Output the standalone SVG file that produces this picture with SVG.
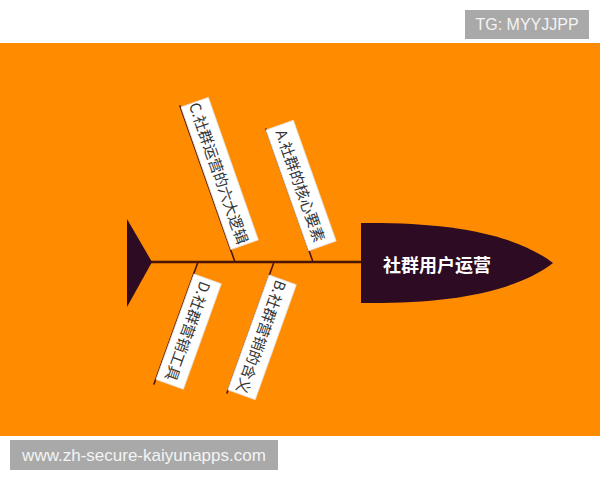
<svg xmlns="http://www.w3.org/2000/svg" width="600" height="480" viewBox="0 0 600 480">
<style>
.bone{stroke:#4a1406;stroke-width:1.6;fill:none;stroke-linecap:round}
.spine{stroke:#4a1406;stroke-width:2.6;fill:none}
.card{fill:#ffffff;stroke:#e6e0da;stroke-width:0.8}
.lbl{font-family:"Noto Sans CJK SC","Liberation Sans",sans-serif;font-size:15px;fill:#333333;text-anchor:middle;dominant-baseline:central}
.wm{font-family:"Liberation Sans",Arial,sans-serif;fill:#f4f4f4}
</style>
<rect x="0" y="0" width="600" height="480" fill="#ffffff"/>
<rect x="0" y="43" width="600" height="393" fill="#ff8c00"/>
<g id="watermark-top">
<rect x="465" y="10" width="124" height="29" fill="#a9a9a9"/>
<text class="wm" x="527" y="30" font-size="16" text-anchor="middle">TG: MYYJJPP</text>
</g>
<g id="watermark-bottom">
<rect x="10" y="440" width="268" height="30" fill="#a9a9a9"/>
<text class="wm" x="144" y="461" font-size="17" text-anchor="middle">www.zh-secure-kaiyunapps.com</text>
</g>
<g id="connectors">
<line class="spine" x1="148" y1="262" x2="362" y2="262"/>
<line class="bone" x1="180" y1="106" x2="235" y2="262"/>
<line class="bone" x1="266" y1="129" x2="313" y2="262"/>
<line class="bone" x1="198" y1="262" x2="154" y2="384"/>
<line class="bone" x1="274" y1="262" x2="227" y2="393"/>
</g>
<g id="tail">
<polygon points="127,219 127,307 152,262" fill="#2d0b22"/>
</g>
<g id="head">
<path d="M361,223 C450,222 515,234 553,263 C515,292 450,304 361,303 Z" fill="#2d0b22"/>
<text x="437" y="264" font-family="'Noto Sans CJK SC','Liberation Sans',sans-serif" font-size="18" font-weight="bold" fill="#ffffff" text-anchor="middle" dominant-baseline="central">社群用户运营</text>
</g>
<g id="node-c" transform="translate(181,107) rotate(70.7)">
<rect class="card" x="0" y="-29" width="151" height="29"/>
<text class="lbl" x="75" y="-14.5">C.社群运营的六大逻辑</text>
</g>
<g id="node-a" transform="translate(266,130) rotate(70.5)">
<rect class="card" x="0" y="-29" width="128" height="29"/>
<text class="lbl" x="64" y="-14.5">A.社群的核心要素</text>
</g>
<g id="node-d" transform="translate(194,274) rotate(109.8)">
<rect class="card" x="0" y="-29" width="112" height="29"/>
<text class="lbl" x="56" y="-14.5">D.社群营销工具</text>
</g>
<g id="node-b" transform="translate(269,275) rotate(109.7)">
<rect class="card" x="0" y="-29" width="122" height="29"/>
<text class="lbl" x="61" y="-14.5">B.社群营销的含义</text>
</g>
</svg>
